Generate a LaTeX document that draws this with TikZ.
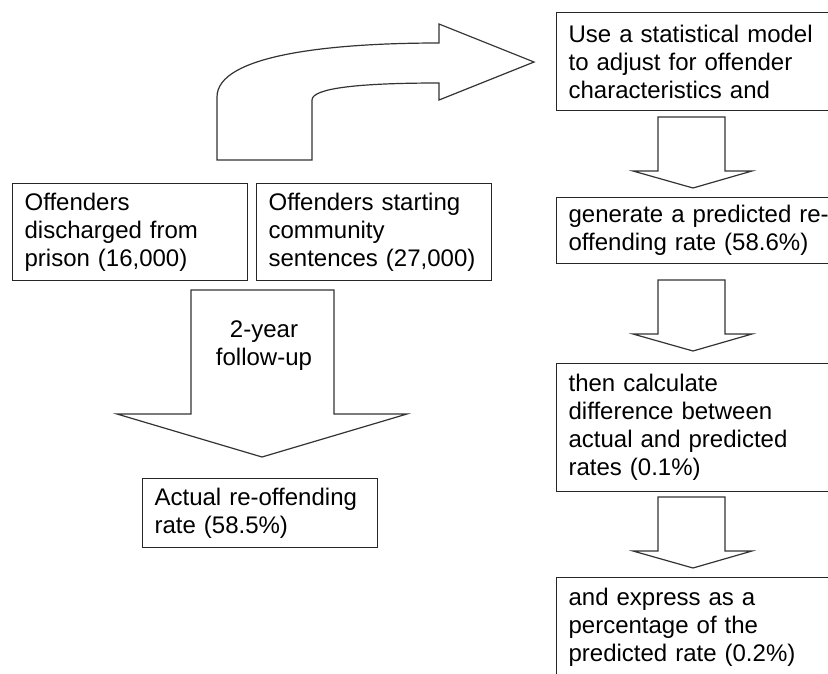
\documentclass[tikz,border=0pt]{standalone}
\usepackage{fontspec}
\setmainfont{Liberation Sans}
\tikzset{every node/.style={font=\fontsize{24}{28}\selectfont},
  txtbox/.style={draw=black!85,line width=1.2pt,align=left,anchor=north west,inner xsep=12pt,inner ysep=0pt},
  blockarrow/.style={draw=black!80,line width=1.2pt,line join=miter}}

\begin{document}
\begin{tikzpicture}[x=1pt,y=-1pt]
\useasboundingbox (0,0) rectangle (828,673);
\clip (0,0) rectangle (828,673);
      \node[txtbox,text width=211pt,minimum height=97pt] (prison) at (12,183) {Offenders\\discharged from\\prison (16,000)};
      \node[txtbox,text width=211pt,minimum height=97pt] (community) at (256,183) {Offenders starting\\community\\sentences (27,000)};
      \node[txtbox,text width=211pt,minimum height=69pt] (actual) at (142,478) {Actual re-offending\\rate (58.5\%)};
      \node[txtbox,text width=290pt,minimum height=98pt] (model) at (556,12) {Use a statistical model\\to adjust for offender\\characteristics and};
      \node[txtbox,text width=290pt,minimum height=66pt] (predicted) at (556,197) {generate a predicted re-\\offending rate (58.6\%)};
      \node[txtbox,text width=290pt,minimum height=128pt] (difference) at (556,363) {then calculate\\difference between\\actual and predicted\\rates (0.1\%)};
      \node[txtbox,text width=290pt,minimum height=99pt] (percentage) at (556,577) {and express as a\\percentage of the\\predicted rate (0.2\%)};

% bent arrow from the two groups to the model
\draw[blockarrow] (217,160) -- (217,97) .. controls (217,55) and (330,43) .. (439,43)
  -- (439,24) -- (534,62) -- (439,100) -- (439,83)
  .. controls (360,83) and (312,88) .. (312,100) -- (312,160) -- cycle;

% follow-up arrow
\draw[blockarrow] (191,290) -- (334,290) -- (334,414) -- (407,414) -- (262,457)
  -- (117,414) -- (191,414) -- cycle;
      \node[align=center] (followup) at (264,346) {2-year\\follow-up};

\foreach \t in {117,280,497}
  \draw[blockarrow] (658,\t) -- (725,\t) -- (725,\t+54) -- (752,\t+54) -- (693,\t+71)
    -- (633,\t+54) -- (658,\t+54) -- cycle;
    \end{tikzpicture}
\end{document}
